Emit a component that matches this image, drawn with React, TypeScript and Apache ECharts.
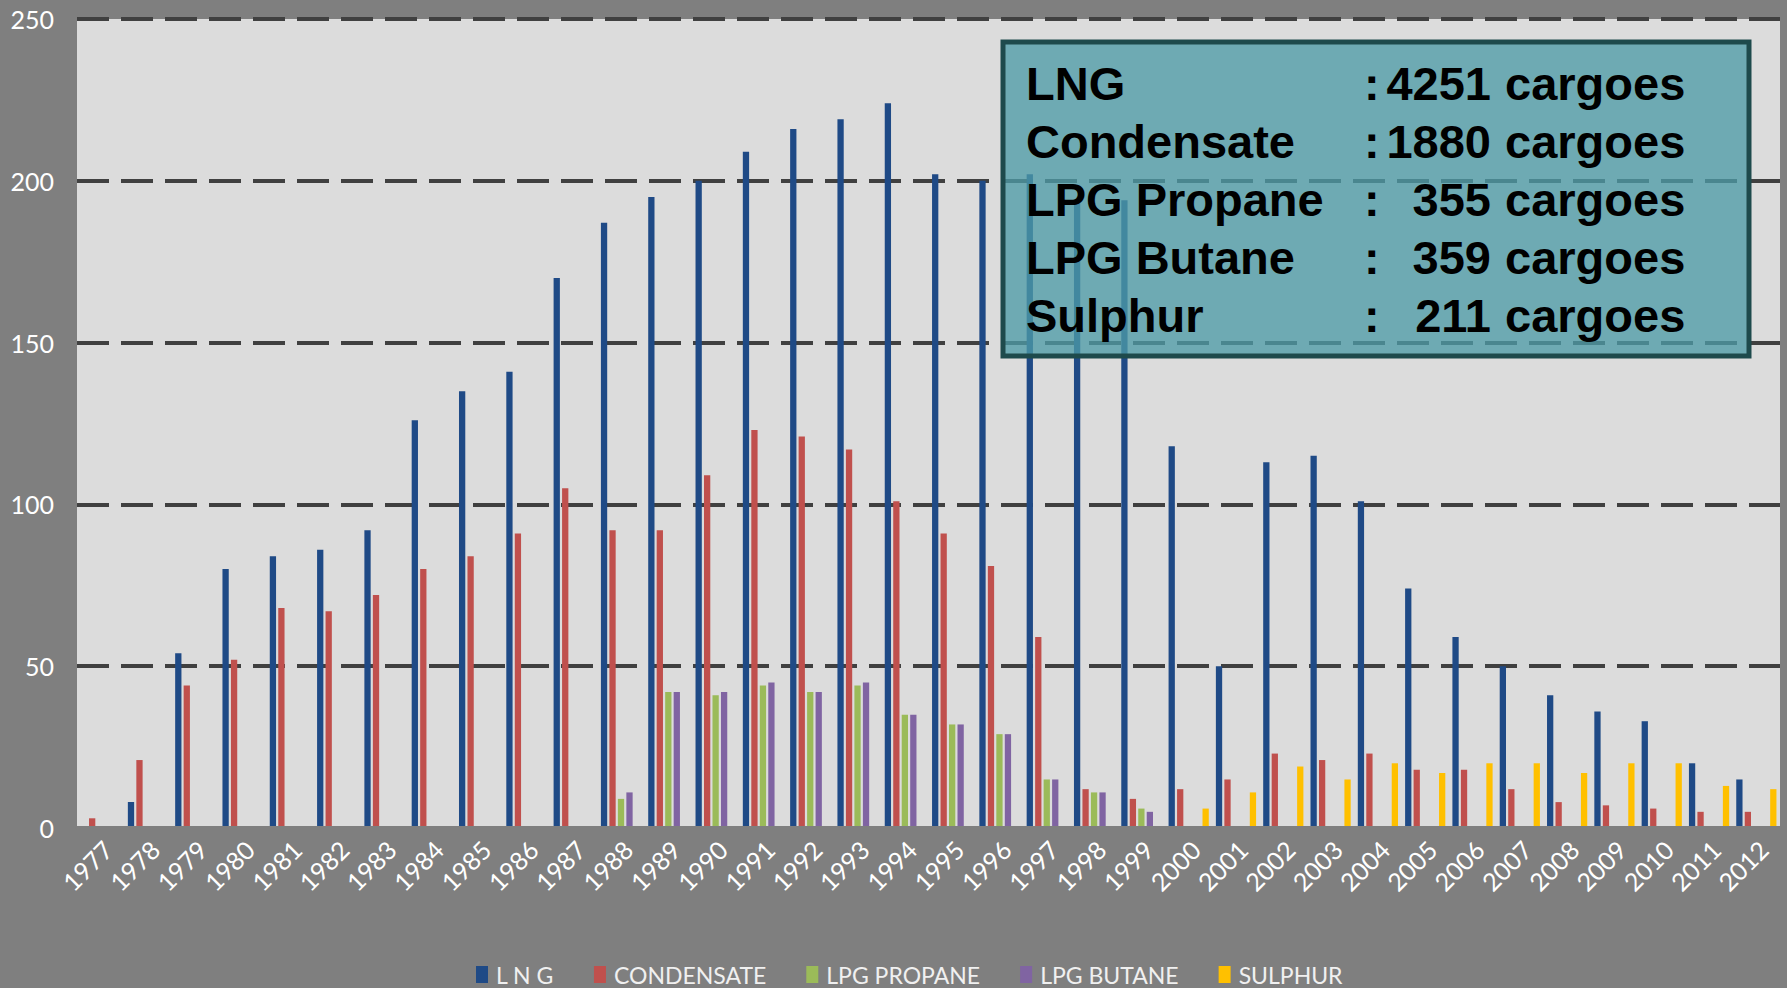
import React, { useEffect, useRef } from "react";
import * as echarts from "echarts";

const years = [
  "1977", "1978", "1979", "1980", "1981", "1982", "1983", "1984", "1985", "1986",
  "1987", "1988", "1989", "1990", "1991", "1992", "1993", "1994", "1995", "1996",
  "1997", "1998", "1999", "2000", "2001", "2002", "2003", "2004", "2005", "2006",
  "2007", "2008", "2009", "2010", "2011", "2012",
];

const lng = [
  null, 8, 54, 80, 84, 86, 92, 126, 135, 141,
  170, 187, 195, 200, 209, 216, 219, 224, 202, 200,
  202, 194, 194, 118, 50, 113, 115, 101, 74, 59,
  50, 41, 36, 33, 20, 15,
];

const condensate = [
  3, 21, 44, 52, 68, 67, 72, 80, 84, 91,
  105, 92, 92, 109, 123, 121, 117, 101, 91, 81,
  59, 12, 9, 12, 15, 23, 21, 23, 18, 18,
  12, 8, 7, 6, 5, 5,
];

const propane = [
  null, null, null, null, null, null, null, null, null, null,
  null, 9, 42, 41, 44, 42, 44, 35, 32, 29,
  15, 11, 6, null, null, null, null, null, null, null,
  null, null, null, null, null, null,
];

const butane = [
  null, null, null, null, null, null, null, null, null, null,
  null, 11, 42, 42, 45, 42, 45, 35, 32, 29,
  15, 11, 5, null, null, null, null, null, null, null,
  null, null, null, null, null, null,
];

const sulphur = [
  null, null, null, null, null, null, null, null, null, null,
  null, null, null, null, null, null, null, null, null, null,
  null, null, null, 6, 11, 19, 15, 20, 17, 20,
  20, 17, 20, 20, 13, 12,
];

const seriesNames = ["L N G", "CONDENSATE", "LPG PROPANE", "LPG BUTANE", "SULPHUR"];
const seriesColors = ["#1f4a86", "#c0504d", "#9bbb59", "#8064a2", "#ffc000"];

const summaryLabels = ["LNG", "Condensate", "LPG Propane", "LPG Butane", "Sulphur"];
const summaryCounts = ["4251", "1880", "355", "359", "211"];
const summaryUnit = "cargoes";

export default function App() {
  const ref = useRef<HTMLDivElement>(null);

  useEffect(() => {
    document.body.style.margin = "0";
    if (!ref.current) return;
    const chart = echarts.init(ref.current, null, { renderer: "svg" });

    const seriesData = [lng, condensate, propane, butane, sulphur];
    const font = 'bold 47px "Liberation Sans", Arial, sans-serif';

    const boxTexts: any[] = [];
    summaryLabels.forEach((lab, i) => {
      const y = 83 + i * 58;
      const base = { fill: "#000", font, verticalAlign: "middle", textVerticalAlign: "middle" };
      boxTexts.push({ type: "text", x: 1026, y, z: 11, style: { ...base, text: lab, align: "left", textAlign: "left" } });
      boxTexts.push({ type: "text", x: 1364, y, z: 11, style: { ...base, text: ":", align: "left", textAlign: "left" } });
      boxTexts.push({ type: "text", x: 1491, y, z: 11, style: { ...base, text: summaryCounts[i], align: "right", textAlign: "right" } });
      boxTexts.push({ type: "text", x: 1505, y, z: 11, style: { ...base, text: summaryUnit, align: "left", textAlign: "left" } });
    });

    const option: any = {
      animation: false,
      backgroundColor: "#7f7f7f",
      grid: [
        { left: 77, top: 19, width: 1703, height: 809, show: true, backgroundColor: "#dcdcdc", borderWidth: 0 },
        { left: 84, top: 19, width: 1703, height: 809, show: false },
      ],
      xAxis: [
        {
          type: "category",
          gridIndex: 0,
          data: years,
          axisLabel: { show: false },
          axisTick: { show: false },
          axisLine: { show: true, lineStyle: { color: "#7f7f7f", width: 4 } },
          z: 3,
        },
        {
          type: "category",
          gridIndex: 1,
          data: years,
          axisLabel: {
            show: true,
            rotate: 45,
            interval: 0,
            color: "#ffffff",
            fontSize: 25,
            fontFamily: "Lato",
            margin: 17,
          },
          axisTick: { show: false },
          axisLine: { show: false },
        },
      ],
      yAxis: [
        {
          type: "value",
          gridIndex: 0,
          min: 0,
          max: 250,
          interval: 50,
          axisLabel: { color: "#ffffff", fontSize: 25, fontFamily: "Lato", margin: 23 },
          axisLine: { show: false },
          axisTick: { show: false },
          splitLine: { show: true, lineStyle: { color: "#404040", width: 4, type: [32, 12] } },
        },
        { type: "value", gridIndex: 1, show: false, min: 0, max: 250 },
      ],
      legend: {
        left: 476,
        top: 963,
        padding: 0,
        icon: "rect",
        itemWidth: 12,
        itemHeight: 17,
        itemGap: 40,
        textStyle: { color: "#f0f0f0", fontSize: 23, fontFamily: "Lato", padding: [0, 0, 0, 3] },
        data: seriesNames,
      },
      series: seriesNames.map((name, i) => ({
        name,
        type: "bar",
        xAxisIndex: 0,
        yAxisIndex: 0,
        data: seriesData[i],
        itemStyle: { color: seriesColors[i] },
        barGap: "35%",
        barCategoryGap: "15%",
      })),
      graphic: [
        {
          type: "rect",
          z: 10,
          shape: { x: 1003, y: 42, width: 746, height: 314 },
          style: { fill: "rgba(77,155,166,0.77)", stroke: "#1e4a4c", lineWidth: 5 },
        },
        ...boxTexts,
      ],
    };

    chart.setOption(option);
    return () => chart.dispose();
  }, []);

  return <div ref={ref} style={{ width: 1787, height: 988, background: "#7f7f7f" }} />;
}
